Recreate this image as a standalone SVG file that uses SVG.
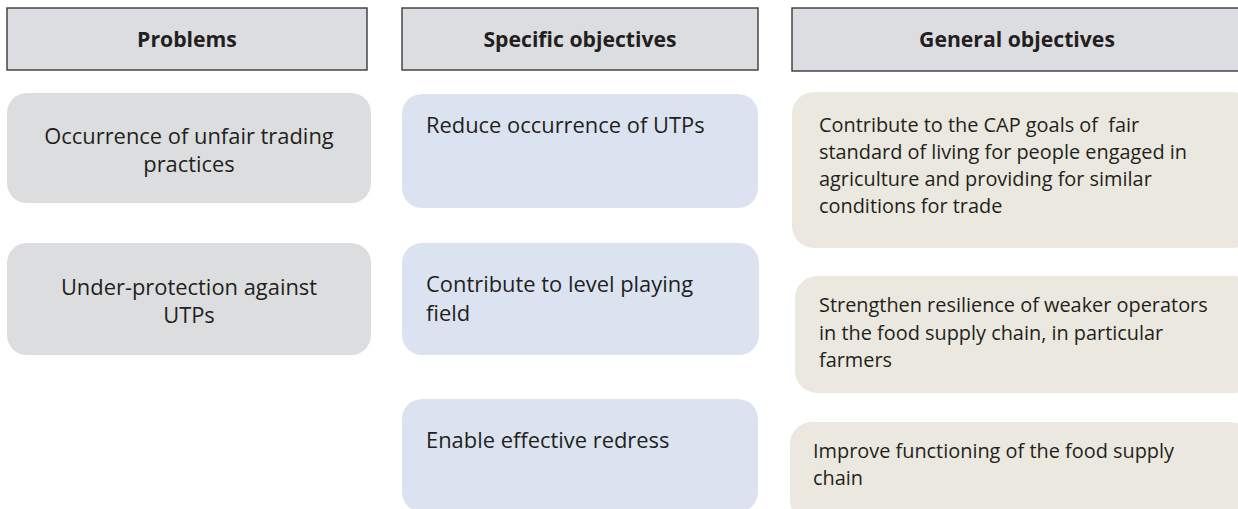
<svg xmlns="http://www.w3.org/2000/svg" width="1238" height="509" viewBox="0 0 1238 509">
<style>
.hdr{fill:#dcdde0;stroke:#3a3a3a;stroke-width:1.4}
.ht{font-family:"Open Sans","Liberation Sans",sans-serif;font-weight:bold;font-size:21.2px;fill:#231f20;text-anchor:middle}
.prob{fill:#dcdddf}
.spec{fill:#dce3f0}
.gen{fill:#ebe8df}
.t{font-family:"Open Sans","Liberation Sans",sans-serif;font-size:21.9px;fill:#231f20}
.c{text-anchor:middle}
.g{font-family:"Open Sans","Liberation Sans",sans-serif;font-size:19.9px;fill:#231f20;white-space:pre}
</style>
<rect width="1238" height="509" fill="#ffffff"/>
<g id="header-problems"><rect class="hdr" x="7" y="8" width="360" height="62"/><text class="ht" x="187" y="47">Problems</text></g>
<g id="header-specific"><rect class="hdr" x="402" y="8" width="356" height="62"/><text class="ht" x="580" y="47">Specific objectives</text></g>
<g id="header-general"><rect class="hdr" x="792" y="8" width="460" height="63"/><text class="ht" x="1017" y="47">General objectives</text></g>

<g id="problem-1"><rect class="prob" x="7" y="93" width="364" height="110" rx="20"/><text class="t c" x="189" y="144">Occurrence of unfair trading</text><text class="t c" x="189" y="172">practices</text></g>
<g id="problem-2"><rect class="prob" x="7" y="243" width="364" height="112" rx="20"/><text class="t c" x="189" y="295">Under-protection against</text><text class="t c" x="189" y="323">UTPs</text></g>

<g id="specific-1"><rect class="spec" x="402" y="94" width="356" height="114" rx="20"/><text class="t" x="426" y="133">Reduce occurrence of UTPs</text></g>
<g id="specific-2"><rect class="spec" x="402" y="243" width="357" height="112" rx="20"/><text class="t" x="426" y="292">Contribute to level playing</text><text class="t" x="426" y="321">field</text></g>
<g id="specific-3"><rect class="spec" x="402" y="399" width="356" height="113" rx="20"/><text class="t" x="426" y="448">Enable effective redress</text></g>

<g id="general-1"><rect class="gen" x="792" y="92" width="462" height="156" rx="22"/><text class="g" x="819" y="132" xml:space="preserve">Contribute to the CAP goals of  fair</text><text class="g" x="819" y="159">standard of living for people engaged in</text><text class="g" x="819" y="186">agriculture and providing for similar</text><text class="g" x="819" y="213">conditions for trade</text></g>
<g id="general-2"><rect class="gen" x="795" y="276" width="460" height="117" rx="22"/><text class="g" x="819" y="312">Strengthen resilience of weaker operators</text><text class="g" x="819" y="340">in the food supply chain, in particular</text><text class="g" x="819" y="367">farmers</text></g>
<g id="general-3"><rect class="gen" x="790" y="422" width="462" height="100" rx="22"/><text class="g" x="813" y="458">Improve functioning of the food supply</text><text class="g" x="813" y="485">chain</text></g>
<g id="connectors"></g>
</svg>
